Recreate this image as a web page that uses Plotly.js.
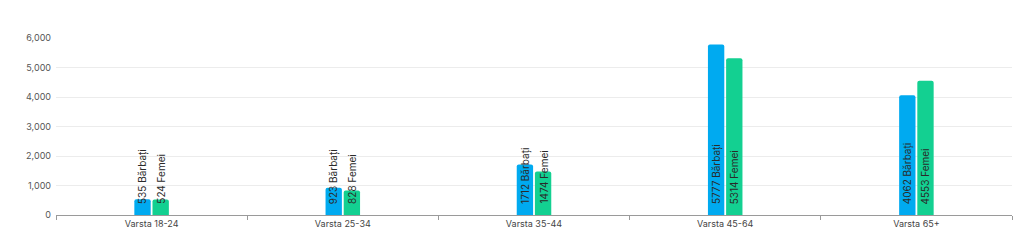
<!DOCTYPE html>
<html>
<head>
<meta charset="utf-8">
<script src="https://cdn.plot.ly/plotly-3.0.1.min.js"></script>
<style>html,body{margin:0;padding:0;background:#fff;}#chart{width:1024px;height:250px;}</style>
</head>
<body>
<div id="chart"></div>
<script>
const categories = ["Varsta 18-24", "Varsta 25-34", "Varsta 35-44", "Varsta 45-64", "Varsta 65+"];
const barbati = [535, 923, 1712, 5777, 4062];
const femei = [524, 828, 1474, 5314, 4553];
const seriesNames = ["Bărbați", "Femei"];
const seriesColors = ["#00AAF0", "#13D091"];
const series = [barbati, femei];

const FONT = "Inter, 'Noto Sans', sans-serif";

const traces = series.map((vals, i) => ({
  type: "bar",
  name: seriesNames[i],
  x: categories,
  y: vals,
  marker: {color: seriesColors[i], cornerradius: 2},
  hoverinfo: "none"
}));

const plotW = 1024 - 56 - 12;
const slot = plotW / categories.length * (1 - 0.81) / 2;
const annotations = [];
series.forEach((vals, i) => {
  vals.forEach((v, j) => {
    annotations.push({
      x: categories[j], y: 0, xref: "x", yref: "y",
      text: v + " " + seriesNames[i],
      showarrow: false,
      textangle: -90,
      xanchor: "center", yanchor: "bottom",
      xshift: (i === 0 ? -1 : 1) * slot / 2,
      yshift: 9,
      font: {family: FONT, size: 10, color: "#2a2a2a"}
    });
  });
});

const layout = {
  width: 1024, height: 250,
  margin: {l: 56, r: 12, t: 38, b: 35},
  paper_bgcolor: "#fff", plot_bgcolor: "#fff",
  showlegend: false,
  barmode: "group",
  bargap: 0.81,
  bargroupgap: 0.1,
  font: {family: FONT, color: "#444"},
  annotations: annotations,
  xaxis: {
    showgrid: false,
    showline: true, linecolor: "#9a9a9a", linewidth: 1,
    ticks: "outside", tickson: "boundaries", ticklen: 4, tickcolor: "#9a9a9a",
    tickfont: {family: FONT, size: 9, color: "#444"},
    fixedrange: true
  },
  yaxis: {
    range: [0, 6000],
    tickvals: [0, 1000, 2000, 3000, 4000, 5000, 6000],
    tickformat: ",d",
    showgrid: true, gridcolor: "#ececec", gridwidth: 1,
    zeroline: false,
    ticks: "", ticklabelstandoff: 4,
    tickfont: {family: FONT, size: 9, color: "#555"},
    fixedrange: true
  }
};

Plotly.newPlot("chart", traces, layout, {displayModeBar: false, staticPlot: true});
</script>
</body>
</html>
